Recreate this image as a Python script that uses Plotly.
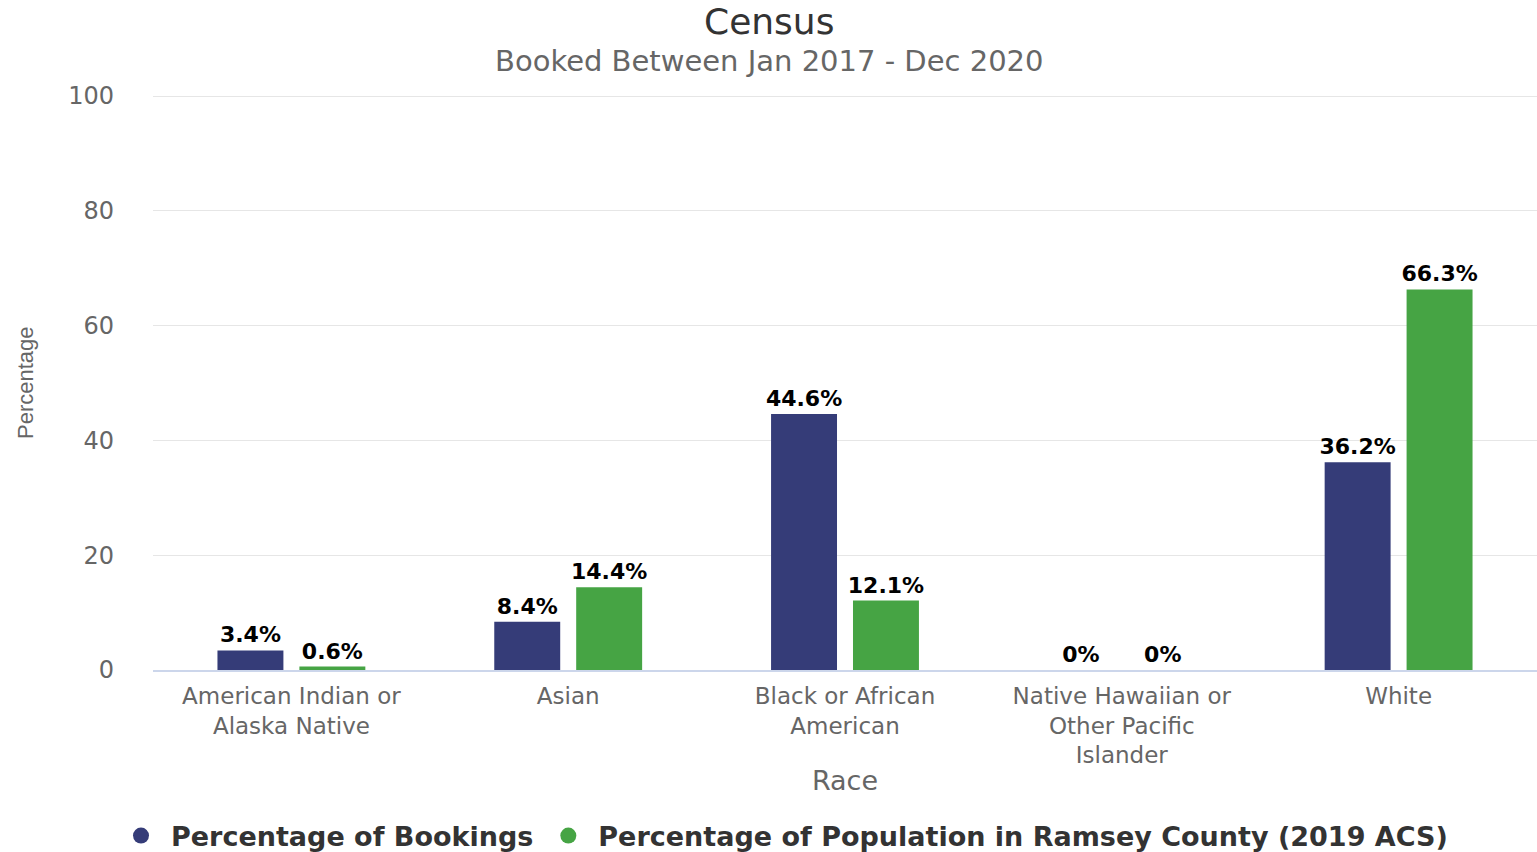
import plotly.graph_objects as go

categories = ["American Indian or<br>Alaska Native", "Asian", "Black or African<br>American",
              "Native Hawaiian or<br>Other Pacific<br>Islander", "White"]
bookings = [3.4, 8.4, 44.6, 0, 36.2]
population = [0.6, 14.4, 12.1, 0, 66.3]
series_names = ["Percentage of Bookings", "Percentage of Population in Ramsey County (2019 ACS)"]
colors = ["#353c78", "#46a444"]
y_ticks = [0, 20, 40, 60, 80, 100]

W, H = 1537, 852
L, R, T, B = 153, 0, 90, 182
pw, ph = W - L - R, H - T - B
YMAX = 101.05

def py(pix):
    """paper y for a pixel row"""
    return (H - B - pix) / ph

fig = go.Figure()
for name, vals, col in zip(series_names, [bookings, population], colors):
    fig.add_trace(go.Bar(
        x=categories, y=vals, name=name, marker=dict(color=col, line=dict(width=0)),
        texttemplate="%{y}%", textposition="outside", cliponaxis=False, constraintext="none",
        textfont=dict(family="DejaVu Sans", size=22, color="#000000", weight="bold"),
        showlegend=False, hoverinfo="skip"))
for name, col in zip(series_names, colors):
    fig.add_trace(go.Scatter(
        x=[None], y=[None], mode="markers", name=name,
        marker=dict(symbol="circle", size=22, color=col)))

fig.update_layout(
    width=W, height=H,
    margin=dict(l=L, r=R, t=T, b=B, autoexpand=False),
    paper_bgcolor="white", plot_bgcolor="white",
    barmode="group", bargap=0.408, bargroupgap=0.195,
    font=dict(family="DejaVu Sans", color="#666666"),
    legend=dict(orientation="h", x=(782 - L) / pw, xanchor="center",
                yref="container", y=1 - 836 / H, yanchor="middle",
                font=dict(family="DejaVu Sans", size=27, color="#333333", weight="bold"),
                itemwidth=50, tracegroupgap=0),
    xaxis=dict(showgrid=False, showline=True, linecolor="#ccd6eb", linewidth=2,
               tickfont=dict(family="DejaVu Sans", size=23, color="#666666"),
               ticks="", fixedrange=True, automargin=False, ticklabelstandoff=4,
               title=dict(text="Race", font=dict(family="DejaVu Sans", size=27, color="#666666"), standoff=4)),
    yaxis=dict(range=[0, YMAX], tickvals=y_ticks, showgrid=True, gridcolor="#e6e6e6", gridwidth=1,
               zeroline=False, showline=False, automargin=False,
               tickfont=dict(family="DejaVu Sans", size=24, color="#666666"),
               ticklabelstandoff=38),
    annotations=[
        dict(text="Census", xref="paper", yref="paper",
             x=(769 - L) / pw, y=py(21), xanchor="center", yanchor="middle", showarrow=False,
             font=dict(family="DejaVu Sans", size=36, color="#333333")),
        dict(text="Booked Between Jan 2017 - Dec 2020", xref="paper", yref="paper",
             x=(769 - L) / pw, y=py(61), xanchor="center", yanchor="middle", showarrow=False,
             font=dict(family="DejaVu Sans", size=29, color="#666666")),
        dict(text="Percentage", xref="paper", yref="paper", textangle=-90,
             x=(25 - L) / pw, y=py(383), xanchor="center", yanchor="middle", showarrow=False,
             font=dict(family="Liberation Sans", size=22, color="#666666")),
    ],
)

fig.write_html("out.html")
